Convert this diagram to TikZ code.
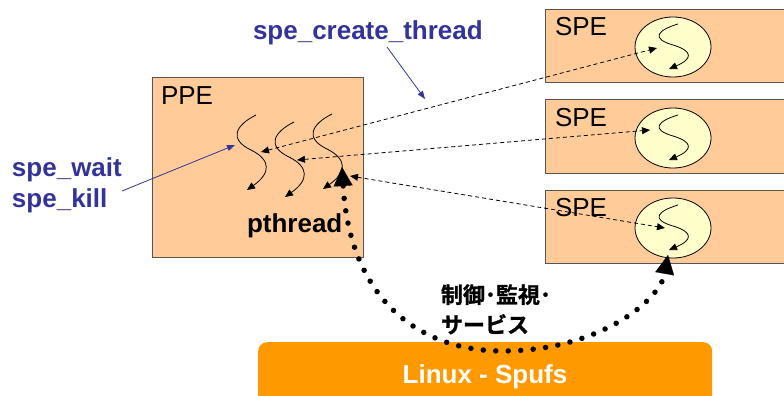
\documentclass[tikz,border=0pt]{standalone}
\usepackage{fontspec}
\setmainfont{Liberation Sans}
\newfontfamily\cjk{Noto Sans CJK JP}[BoldFont={Noto Sans CJK JP Bold}, BoldFeatures={FakeBold=1.2}]
\usetikzlibrary{arrows.meta}
\definecolor{peach}{HTML}{FFCC99}
\definecolor{pale}{HTML}{FFFFCC}
\definecolor{labblue}{HTML}{333399}
\definecolor{barorange}{HTML}{FF9900}
\definecolor{edge}{HTML}{555555}
\tikzset{
  unitbox/.style={draw=edge, line width=0.9pt, fill=peach, anchor=north west, inner sep=0pt, outer sep=0pt},
  big/.style={font=\fontsize{26}{30}\selectfont},
  bigbold/.style={font=\bfseries\fontsize{26}{30}\selectfont},
  txt/.style={anchor=base west, inner sep=0pt, outer sep=0pt},
  squigline/.style={line width=0.8pt, -{Triangle[length=8pt,width=7pt]}},
  dasharrow/.style={line width=0.8pt, dash pattern=on 4pt off 3pt,
     {Triangle[length=8pt,width=7pt]}-{Triangle[length=8pt,width=7pt]}},
  bluearrow/.style={draw=labblue, line width=0.8pt, -{Triangle[length=8pt,width=6pt]}},
  dotline/.style={line width=5.5pt, line cap=round, dash pattern=on 0pt off 12.5pt,
     {Triangle[length=19pt,width=19pt,line width=0.1pt]}-{Triangle[length=19pt,width=19pt,line width=0.1pt]}},
  pics/squig/.style={code={
     \draw[squigline] (0,0) .. controls (-20,10) and (-28,24) .. (-5,35)
        .. controls (15,45) and (15,58) .. (-9,75);}}
}
\begin{document}
\begin{tikzpicture}[x=1pt,y=-1pt]
\useasboundingbox (0,0) rectangle (784,396);

% boxes
\node[unitbox, minimum width=211pt, minimum height=180pt] (ppe) at (152,77) {};
\node[unitbox, minimum width=260pt, minimum height=73pt] (spe1) at (545,9) {};
\node[unitbox, minimum width=260pt, minimum height=74pt] (spe2) at (545,99) {};
\node[unitbox, minimum width=260pt, minimum height=73pt] (spe3) at (545,190) {};

% cores
\draw[line width=0.8pt, fill=pale] (673,47) ellipse [x radius=38, y radius=30];
\node[inner sep=0pt] (c1) at (673,47) {};
\draw[line width=0.8pt, fill=pale] (673,138) ellipse [x radius=38, y radius=30];
\node[inner sep=0pt] (c2) at (673,138) {};
\draw[line width=0.8pt, fill=pale] (673,228) ellipse [x radius=38, y radius=30];
\node[inner sep=0pt] (c3) at (673,228) {};

% threads in PPE
\pic (t1) at (256,115) {squig};
\pic (t2) at (294,122) {squig};
\pic (t3) at (332,114) {squig};

% threads in SPEs
\pic[yscale=0.6] (s1) at (678,24) {squig};
\pic[yscale=0.6] (s2) at (678,115) {squig};
\pic[yscale=0.6] (s3) at (678,205) {squig};

% labels in boxes
\node[txt, big] (ppelab) at (161,104) {PPE};
\node[txt, big] (spelab1) at (555,36) {SPE};
\node[txt, big] (spelab2) at (555,126) {SPE};
\node[txt, big] (spelab3) at (555,216) {SPE};
\node[txt, bigbold] (pth) at (247,232) {pthread};

% dashed create arrows
\coordinate (p1) at (261,152);
\coordinate (p2) at (297,160);
\coordinate (p3) at (350,176);
\coordinate (q1) at (657,48);
\coordinate (q2) at (650,130);
\coordinate (q3) at (665,228);
\draw[dasharrow] (p1) -- (q1);
\draw[dasharrow] (p2) -- (q2);
\draw[dasharrow] (p3) -- (q3);

% blue labels
\node[txt, bigbold, text=labblue] (create) at (253,40) {spe\_create\_thread};
\node[txt, bigbold, text=labblue] (wait) at (12,176) {spe\_wait};
\node[txt, bigbold, text=labblue] (kill) at (12,207) {spe\_kill};
\coordinate (ca) at (387,47);
\coordinate (cb) at (425,99);
\coordinate (wa) at (122,191);
\coordinate (wb) at (235,145);
\draw[bluearrow] (ca) -- (cb);
\draw[bluearrow] (wa) -- (wb);

% Linux bar
\node[fill=barorange, rounded corners=9pt, anchor=north west, minimum width=454pt,
      minimum height=80pt, inner sep=0pt] (linux) at (258,342) {};
\node[anchor=base, inner sep=0pt, text=white, bigbold] (linuxlab) at (485,383) {Linux - Spufs};

% dotted service curve
\coordinate (dA) at (342,167);
\coordinate (dB) at (668,255);
\draw[dotline] (dA) .. controls (350,300) and (420,352) .. (505,351)
   .. controls (600,350) and (660,300) .. (dB);

% Japanese label
\node[txt, font=\cjk\bfseries\fontsize{22}{30}\selectfont] (ctl1) at (441,303) {制御･監視･};
\node[txt, font=\cjk\bfseries\fontsize{22}{30}\selectfont] (ctl2) at (441,333) {サービス};
\end{tikzpicture}
\end{document}
